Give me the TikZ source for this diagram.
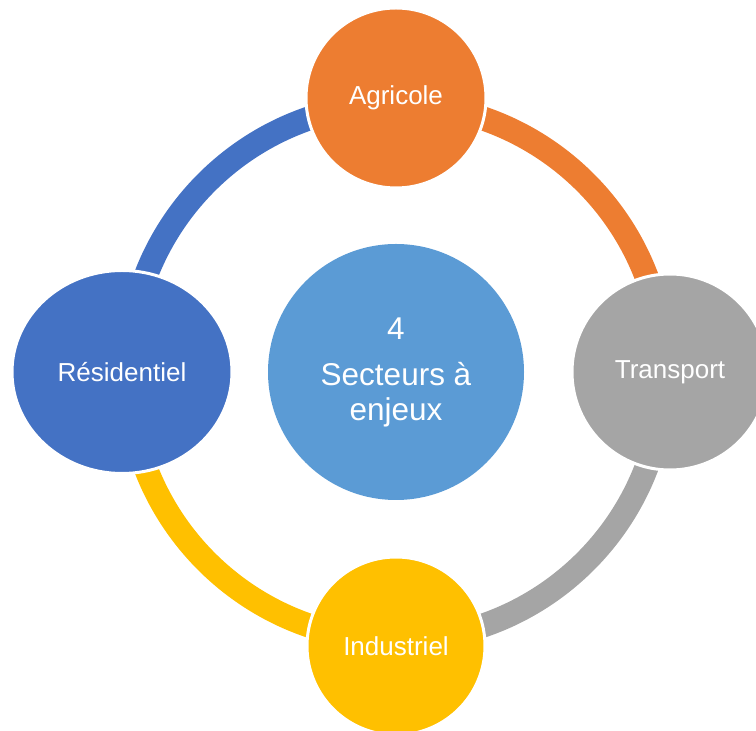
\documentclass[tikz,border=0pt]{standalone}
\usepackage{fontspec}
\setmainfont{Liberation Sans}
\usetikzlibrary{shapes.geometric}

\definecolor{secorange}{HTML}{ED7D31}
\definecolor{secgray}{HTML}{A5A5A5}
\definecolor{secyellow}{HTML}{FFC000}
\definecolor{secblue}{HTML}{4472C4}
\definecolor{hubblue}{HTML}{5B9BD5}

\tikzset{
	ring/.style={line width=24pt},
	sector/.style={circle, draw=white, line width=3pt, inner sep=0pt, text=white, font=\fontsize{26}{30}\selectfont},
}

\begin{document}
\begin{tikzpicture}[x=1pt,y=1pt]
	\useasboundingbox (0,0) rectangle (756,731);
	\node[circle, fill=hubblue, minimum size=256pt, inner sep=0pt, text=white, align=center, font=\fontsize{31.5}{35}\selectfont] at (396,359) (hub) {4\\[11pt]Secteurs à\\enjeux};
	\foreach \a/\c in {0/secorange, 90/secblue, 180/secyellow, 270/secgray}
		\draw[ring, \c] ([shift={(\a:268pt)}]hub.center) arc[start angle=\a, end angle=\a+90, radius=268pt];
	\node[sector, fill=secorange, minimum size=180pt] at (396,633) (agr) {Agricole};
	\node[sector, fill=secgray, minimum size=196pt] at (670,359) (tra) {Transport};
	\node[sector, fill=secyellow, minimum size=178pt] at (396,85) (ind) {Industriel};
	\node[sector, ellipse, fill=secblue, minimum width=220pt, minimum height=203pt] at (122,359) (res) {Résidentiel};
\end{tikzpicture}
\end{document}
